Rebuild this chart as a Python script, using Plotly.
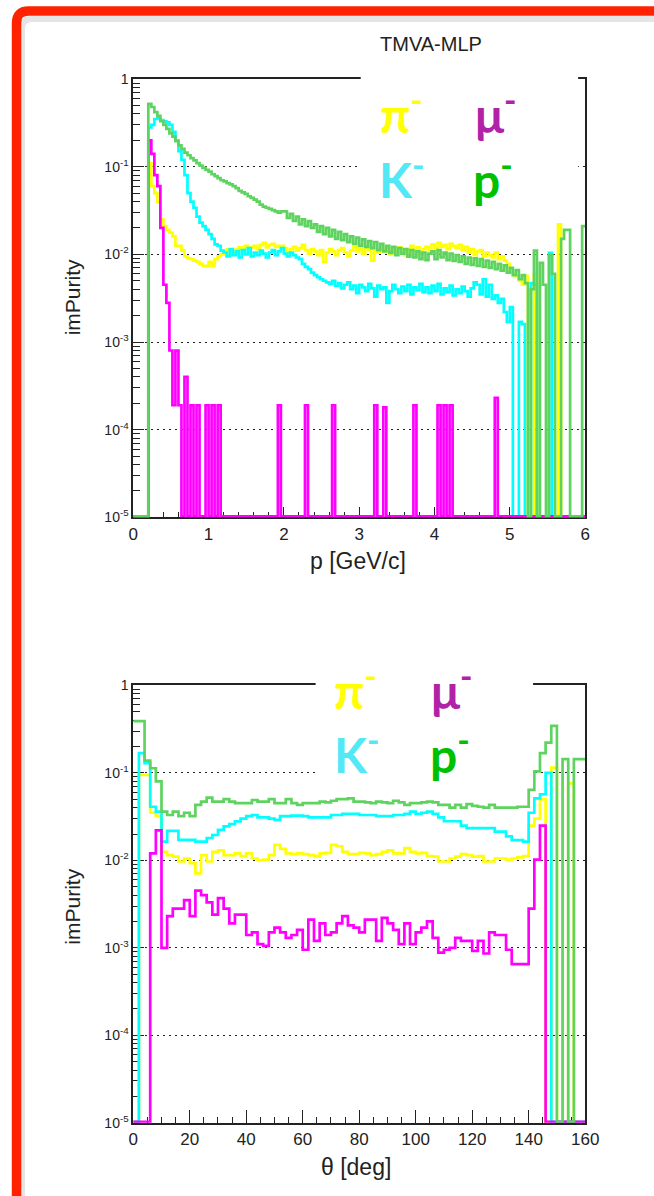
import plotly.graph_objects as go

W, H = 654, 1196

# ---------------- data: top panel, imPurity vs p (150 bins, 0-6 GeV/c) -------------
p_nbins = 150
p_max = 6.0
p_edges = [p_max * i / p_nbins for i in range(p_nbins + 1)]

pion_p = [
    0, 0, 0, 0, 0, 0.11, 0.06, 0.05, 0.04, 0.025,
    0.021, 0.019, 0.0177, 0.016, 0.0125, 0.0125, 0.011, 0.0095, 0.009, 0.0088,
    0.0085, 0.0082, 0.0078, 0.0074, 0.0074, 0.0082, 0.0074, 0.0088, 0.0095, 0.010,
    0.0105, 0.0114, 0.0098, 0.0108, 0.0115, 0.012, 0.0112, 0.0125, 0.0118, 0.012,
    0.0125, 0.0115, 0.0128, 0.0135, 0.012, 0.0128, 0.0132, 0.0122, 0.0125, 0.0125,
    0.0118, 0.0105, 0.0115, 0.0122, 0.011, 0.0118, 0.0128, 0.0112, 0.0102, 0.0115,
    0.0108, 0.0098, 0.0112, 0.0082, 0.0105, 0.0115, 0.0108, 0.0098, 0.0112, 0.0118,
    0.0105, 0.0095, 0.011, 0.0122, 0.0108, 0.0115, 0.0102, 0.0118, 0.0112, 0.0085,
    0.011, 0.0105, 0.012, 0.0108, 0.0115, 0.010, 0.0118, 0.0108, 0.012, 0.0112,
    0.0098, 0.0115, 0.0125, 0.011, 0.012, 0.0105, 0.0115, 0.0122, 0.0112, 0.013,
    0.0118, 0.0135, 0.0122, 0.0128, 0.0115, 0.0132, 0.0125, 0.0118, 0.0128, 0.0112,
    0.0122, 0.0105, 0.0115, 0.0098, 0.0108, 0.0112, 0.0095, 0.0105, 0.0098, 0.0092,
    0.0105, 0.0088, 0.0095, 0.0085, 0.0078, 0.0062, 0.0058, 0.0056, 0.005, 0.0045,
    0.0057, 0, 0, 0.006, 0, 0, 0, 0, 0, 0,
    0, 0.022, 0, 0, 0, 0, 0, 0, 0, 0,
]

kaon_p = [
    0, 0, 0, 0, 0, 0.28, 0.30, 0.35, 0.36, 0.34,
    0.33, 0.32, 0.30, 0.25, 0.20, 0.15, 0.12, 0.08, 0.05, 0.04,
    0.034, 0.027, 0.023, 0.021, 0.019, 0.017, 0.015, 0.013, 0.0125, 0.011,
    0.0105, 0.0095, 0.0115, 0.0098, 0.0108, 0.0092, 0.0112, 0.010, 0.0118, 0.0095,
    0.0105, 0.0098, 0.011, 0.0102, 0.0092, 0.0105, 0.0112, 0.0098, 0.0108, 0.0118,
    0.0102, 0.0095, 0.0105, 0.0098, 0.0092, 0.0088, 0.0078, 0.0072, 0.0068, 0.0062,
    0.0058, 0.0055, 0.0052, 0.005, 0.0048, 0.0046, 0.005, 0.0044, 0.0047, 0.0041,
    0.0045, 0.0048, 0.004, 0.0044, 0.0036, 0.0045, 0.0042, 0.0038, 0.0046, 0.0041,
    0.0033, 0.0044, 0.004, 0.0042, 0.0028, 0.0038, 0.0045, 0.004, 0.0036, 0.0043,
    0.0038, 0.0045, 0.0035, 0.0042, 0.0039, 0.0046, 0.0037, 0.0042, 0.0036, 0.0044,
    0.0038, 0.0046, 0.0035, 0.0041, 0.0037, 0.0044, 0.0034, 0.004, 0.0036, 0.0043,
    0.0038, 0.0033, 0.0041, 0.0048, 0.0045, 0.0035, 0.0052, 0.0033, 0.0045, 0.0031,
    0.0034, 0.0028, 0.0031, 0.0022, 0.0017, 0.0025, 0, 0, 0.0017, 0.0016,
    0, 0, 0.0047, 0.0045, 0, 0, 0, 0, 0.0104, 0,
    0, 0, 0, 0, 0, 0, 0, 0, 0, 0,
]

muon_p = [
    0, 0, 0, 0, 0, 0.2, 0.14, 0.08, 0.06, 0.02,
    0.0045, 0.0028, 0.0008, 0.00019, 0.0008, 0.00019, 0, 0.0004, 0, 0.00019,
    0, 0.00019, 0, 0, 0.00019, 0, 0.00019, 0, 0.00019, 0,
    0, 0, 0, 0, 0, 0, 0, 0, 0, 0,
    0, 0, 0, 0, 0, 0, 0, 0, 0.00019, 0,
    0, 0, 0, 0, 0, 0, 0, 0.00019, 0, 0,
    0, 0, 0, 0, 0, 0, 0.00019, 0, 0, 0,
    0, 0, 0, 0, 0, 0, 0, 0, 0, 0,
    0.00019, 0, 0, 0.00018, 0, 0, 0, 0, 0, 0,
    0, 0, 0, 0.00019, 0, 0, 0, 0, 0, 0,
    0, 0.00019, 0, 0.00019, 0, 0.00019, 0, 0, 0, 0,
    0, 0, 0, 0, 0, 0, 0, 0, 0, 0,
    0.00023, 0, 0, 0, 0, 0, 0, 0, 0, 0,
    0, 0, 0, 0, 0, 0, 0, 0, 0, 0,
    0, 0, 0, 0, 0, 0, 0, 0, 0, 0,
]

proton_p = [
    0, 0, 0, 0, 0, 0.52, 0.48, 0.42, 0.38, 0.33,
    0.30, 0.27, 0.24, 0.22, 0.195, 0.175, 0.16, 0.145, 0.135, 0.125,
    0.118, 0.11, 0.103, 0.097, 0.092, 0.088, 0.082, 0.078, 0.074, 0.07,
    0.068, 0.065, 0.063, 0.060, 0.057, 0.053, 0.051, 0.049, 0.046, 0.044,
    0.042, 0.040, 0.037, 0.035, 0.034, 0.033, 0.032, 0.031, 0.030, 0.031,
    0.031, 0.026, 0.029, 0.024, 0.027, 0.022, 0.025, 0.021, 0.024, 0.020,
    0.022, 0.018, 0.021, 0.017, 0.020, 0.016, 0.019, 0.015, 0.018, 0.0145,
    0.017, 0.0138, 0.016, 0.0132, 0.0155, 0.0125, 0.0148, 0.0122, 0.0142, 0.0118,
    0.0138, 0.0112, 0.0132, 0.0108, 0.0125, 0.0104, 0.0122, 0.0098, 0.0118, 0.0102,
    0.0115, 0.0094, 0.0112, 0.0092, 0.0108, 0.0088, 0.0105, 0.0086, 0.0102, 0.0108,
    0.0088, 0.0112, 0.0092, 0.0105, 0.0086, 0.0102, 0.0084, 0.0098, 0.0082, 0.0095,
    0.0078, 0.0092, 0.0076, 0.009, 0.0074, 0.0088, 0.0072, 0.0085, 0.007, 0.0082,
    0.0068, 0.0078, 0.0065, 0.0075, 0.0062, 0.007, 0.0058, 0.0066, 0.0052, 0.0058,
    0.0047, 0, 0.004, 0.011, 0, 0.008, 0.0045, 0, 0.0098, 0.006,
    0, 0, 0.015, 0.019, 0.019, 0, 0, 0, 0, 0.021,
]

# ---------------- data: bottom panel, imPurity vs theta (80 bins, 0-160 deg) -------
t_nbins = 80
t_max = 160.0
t_edges = [t_max * i / t_nbins for i in range(t_nbins + 1)]

pion_t = [
    0, 0.095, 0.095, 0.035, 0.032, 0.0125, 0.0115, 0.011, 0.0097, 0.0105,
    0.0093, 0.0071, 0.0115, 0.0097, 0.0125, 0.013, 0.0115, 0.0115, 0.012, 0.0112,
    0.012, 0.0105, 0.010, 0.0102, 0.0115, 0.015, 0.0135, 0.012, 0.0118, 0.012,
    0.0118, 0.0115, 0.0112, 0.012, 0.0122, 0.015, 0.0145, 0.0125, 0.0118, 0.0118,
    0.0122, 0.012, 0.0115, 0.0118, 0.0125, 0.013, 0.012, 0.012, 0.0138, 0.0125,
    0.012, 0.0122, 0.0112, 0.011, 0.0097, 0.0097, 0.0105, 0.011, 0.0118, 0.0115,
    0.011, 0.0112, 0.0097, 0.0097, 0.0105, 0.0105, 0.0102, 0.0105, 0.0108, 0.0112,
    0.025, 0.03, 0.05, 0, 0.115, 0, 0, 0.076, 0, 0,
]

kaon_t = [
    0, 0.168, 0.129, 0.041, 0.036, 0.0164, 0.0217, 0.0217, 0.0171, 0.0171,
    0.0171, 0.0164, 0.0164, 0.018, 0.0195, 0.0223, 0.0245, 0.026, 0.0279, 0.030,
    0.032, 0.033, 0.031, 0.031, 0.030, 0.029, 0.032, 0.032, 0.0325, 0.0325,
    0.032, 0.031, 0.031, 0.031, 0.031, 0.033, 0.033, 0.034, 0.034, 0.034,
    0.033, 0.033, 0.033, 0.032, 0.032, 0.032, 0.033, 0.033, 0.034, 0.036,
    0.034, 0.035, 0.036, 0.034, 0.031, 0.028, 0.028, 0.028, 0.025, 0.0233,
    0.0233, 0.0233, 0.0233, 0.0233, 0.0213, 0.0213, 0.0188, 0.017, 0.017, 0.0164,
    0.035, 0.051, 0.057, 0.10, 0, 0, 0, 0, 0, 0,
]

muon_t = [
    0, 0, 0, 0.012, 0.022, 0.001, 0.0023, 0.0028, 0.0028, 0.0035,
    0.0023, 0.0045, 0.004, 0.0033, 0.0024, 0.0037, 0.0028, 0.0019, 0.0024, 0.0024,
    0.0014, 0.0015, 0.0011, 0.00105, 0.0015, 0.0017, 0.0015, 0.0013, 0.0014, 0.0016,
    0.00095, 0.0021, 0.0012, 0.0019, 0.0014, 0.0015, 0.0019, 0.0023, 0.0018, 0.0017,
    0.0015, 0.0021, 0.0021, 0.0012, 0.0022, 0.0019, 0.0016, 0.0011, 0.0019, 0.0011,
    0.0015, 0.0017, 0.002, 0.0013, 0.00088, 0.00095, 0.001, 0.0013, 0.0012, 0.0012,
    0.00092, 0.0012, 0.00086, 0.0015, 0.0014, 0.0014, 0.00095, 0.00065, 0.00065, 0.00065,
    0.0028, 0.0102, 0.025, 0, 0, 0, 0, 0, 0, 0,
]

proton_t = [
    0.39, 0.39, 0.138, 0.113, 0.08, 0.036, 0.033, 0.036, 0.032, 0.035,
    0.032, 0.043, 0.047, 0.052, 0.047, 0.047, 0.05, 0.047, 0.045, 0.045,
    0.045, 0.049, 0.047, 0.047, 0.05, 0.045, 0.045, 0.05, 0.045, 0.043,
    0.045, 0.045, 0.045, 0.047, 0.046, 0.048, 0.05, 0.05, 0.051, 0.047,
    0.047, 0.046, 0.045, 0.047, 0.046, 0.045, 0.048, 0.046, 0.043, 0.045,
    0.045, 0.046, 0.047, 0.046, 0.043, 0.043, 0.04, 0.043, 0.04, 0.044,
    0.042, 0.041, 0.04, 0.043, 0.04, 0.04, 0.04, 0.04, 0.041, 0.041,
    0.064, 0.104, 0.168, 0.222, 0.345, 0, 0.144, 0, 0.144, 0.144,
]

p_ticks = [0, 1, 2, 3, 4, 5, 6]
t_ticks = [0, 20, 40, 60, 80, 100, 120, 140, 160]
y_ticks = [1e-5, 1e-4, 1e-3, 1e-2, 1e-1, 1]
y_ticktext = ["10<sup>-5</sup>", "10<sup>-4</sup>", "10<sup>-3</sup>",
              "10<sup>-2</sup>", "10<sup>-1</sup>", "1"]
y_minor = [m * 10 ** e for e in range(-5, 0) for m in range(2, 10)]

legend_labels = ["π<sup>-</sup>", "μ<sup>-</sup>", "K<sup>-</sup>", "p<sup>-</sup>"]

# ---------------- styling -------------------------------------------------------------
C_PI, C_K, C_MU, C_P = "#ffff00", "#00ffff", "#ff00ff", "#5fd35f"
LEG_COLORS = ["#ffff00", "#b022a6", "#52e8f6", "#00c000"]
FONT = "Liberation Sans, Arial, sans-serif"
AX = "#222222"
FLOOR = 1.025e-5  # empty bins drawn on the lower frame, as ROOT does

# screen calibration: the page is shown slightly inset/scaled, so target pixel
# positions (measured on the reference picture) are mapped back to paper coords.
SX0, SXS = 5.0, 0.969
SY0, SYS = 7.0, 0.986


def hx(px):
    return (px - SX0) / (SXS * W)


def hy(py):
    return 1 - (py - SY0) / (SYS * H)


def step(edges, vals):
    ys = [v if v > 0 else FLOOR for v in vals]
    return edges, ys + [ys[-1]]


fig = go.Figure()

panels = [
    (p_edges, [(pion_p, C_PI), (kaon_p, C_K), (muon_p, C_MU), (proton_p, C_P)], "x", "y"),
    (t_edges, [(pion_t, C_PI), (kaon_t, C_K), (muon_t, C_MU), (proton_t, C_P)], "x2", "y2"),
]
for edges, series, xa, ya in panels:
    for vals, col in series:
        xs, ys = step(edges, vals)
        fig.add_trace(go.Scatter(
            x=xs, y=ys, mode="lines", xaxis=xa, yaxis=ya,
            line=dict(shape="hv", color=col, width=2.7),
            showlegend=False, hoverinfo="skip"))

XDOM = [hx(133), hx(584)]
TOP = [hy(516), hy(78)]
BOT = [hy(1121), hy(684)]

tickfont = dict(family=FONT, size=17, color=AX)


def xaxis_cfg(dom_anchor, rng, ticks, minor_dtick, major_len):
    return dict(
        domain=XDOM, anchor=dom_anchor, range=rng,
        showline=True, linecolor=AX, linewidth=1.6, mirror=True,
        ticks="inside", ticklen=major_len, tickwidth=1.3, tickcolor=AX,
        tickmode="array", tickvals=ticks, ticktext=[str(t) for t in ticks],
        tickfont=tickfont, showgrid=False, zeroline=False,
        minor=dict(ticks="inside", ticklen=6, tickwidth=1.2, tickcolor=AX,
                   tick0=0, dtick=minor_dtick, showgrid=False),
        layer="below traces", fixedrange=True,
    )


def yaxis_cfg(dom, anchor):
    return dict(
        domain=dom, anchor=anchor, type="log", range=[-5, 0],
        showline=True, linecolor=AX, linewidth=1.6, mirror=True,
        ticks="inside", ticklen=11, tickwidth=1.3, tickcolor=AX,
        tickmode="array", tickvals=y_ticks, ticktext=y_ticktext,
        tickfont=dict(family=FONT, size=14, color=AX),
        showgrid=True, gridcolor=AX, gridwidth=1.3, griddash="2px,4px",
        zeroline=False,
        minor=dict(ticks="inside", ticklen=7, tickwidth=1.2, tickcolor=AX,
                   tickvals=y_minor, showgrid=False),
        layer="below traces", fixedrange=True,
    )


fig.update_layout(
    width=W, height=H, autosize=False,
    margin=dict(l=0, r=0, t=0, b=0),
    paper_bgcolor="white", plot_bgcolor="white",
    xaxis=xaxis_cfg("y", [0, 6], p_ticks, 0.2, 11),
    yaxis=yaxis_cfg(TOP, "x"),
    xaxis2=xaxis_cfg("y2", [0, 160], t_ticks, 5, 13),
    yaxis2=yaxis_cfg(BOT, "x2"),
)

XR, YB = 1.04, -0.02  # frame runs off the right and bottom edges
shapes = [
    # white legend boxes (they hide the frame and data beneath them)
    dict(type="rect", xref="paper", yref="paper", x0=hx(360), x1=hx(577),
         y0=hy(215), y1=hy(66), fillcolor="white", line=dict(width=0), layer="above"),
    dict(type="rect", xref="paper", yref="paper", x0=hx(315), x1=hx(532),
         y0=hy(782), y1=hy(670), fillcolor="white", line=dict(width=0), layer="above"),
    # soft shadow inside the red frame
    dict(type="path", xref="paper", yref="paper",
         path=f"M {hx(22)},{YB} L {hx(22)},{hy(28)} Q {hx(22)},{hy(18)} {hx(32)},{hy(18)} L {XR},{hy(18)}",
         line=dict(color="rgba(0,0,0,0.10)", width=6), layer="above"),
    # red rounded frame
    dict(type="path", xref="paper", yref="paper",
         path=f"M {hx(16.5)},{YB} L {hx(16.5)},{hy(22)} Q {hx(16.5)},{hy(10)} {hx(28.5)},{hy(10)} L {XR},{hy(10)}",
         line=dict(color="#ff2200", width=9.5), layer="above"),
]
fig.update_layout(shapes=shapes)

ann = []


def text(x, y, s, size, color=AX, angle=0, bold=False, family=FONT):
    ann.append(dict(
        x=hx(x), y=hy(y), xref="paper", yref="paper", text=(f"<b>{s}</b>" if bold else s),
        showarrow=False, xanchor="center", yanchor="middle", textangle=angle,
        font=dict(family=family, size=size, color=color)))


text(430, 43, "TMVA-MLP", 20)
text(357, 560, "p [GeV/c]", 23)
text(355, 1165, "θ [deg]", 23)
text(72, 296, "imPurity", 21, angle=-90)
text(72, 905, "imPurity", 21, angle=-90)

LEG_FONT = "Lato, Liberation Sans, sans-serif"
top_pos = [(401, 110), (495, 110), (401, 175), (492, 175)]
bot_pos = [(355, 686), (451, 686), (356, 750), (449, 750)]
for (x, y), lab, col in zip(top_pos, legend_labels, LEG_COLORS):
    text(x, y, lab, 48, color=col, bold=True, family=LEG_FONT)
for (x, y), lab, col in zip(bot_pos, legend_labels, LEG_COLORS):
    text(x, y, lab, 48, color=col, bold=True, family=LEG_FONT)

fig.update_layout(annotations=ann)

fig.write_html(
    "out.html",
    config={"responsive": False, "displayModeBar": False},
    post_script="document.body.style.margin='0';document.body.style.overflow='hidden';",
)
